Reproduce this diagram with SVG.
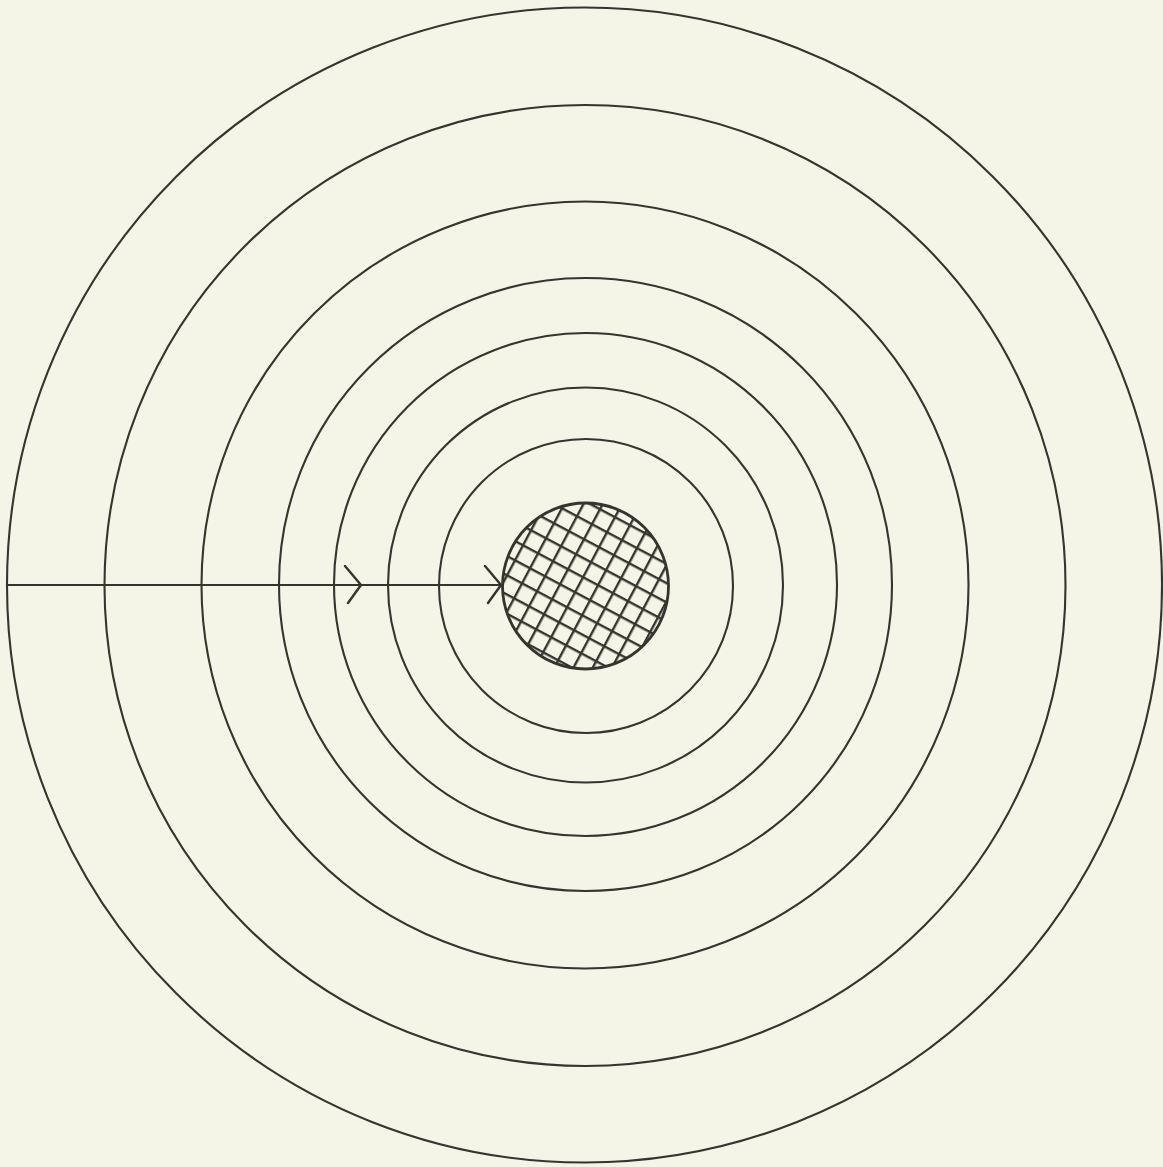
<svg xmlns="http://www.w3.org/2000/svg" width="1163" height="1167" viewBox="0 0 1163 1167">
<style>
.ring{fill:none;stroke:#35352f;stroke-width:2.1}
.conn{fill:none;stroke:#35352f;stroke-width:2.1}
.chev{fill:none;stroke:#35352f;stroke-width:2.4;stroke-linecap:round;stroke-linejoin:round}
.hatch{stroke:#35352f;stroke-width:2.8}
</style>
<defs>
<marker id="chev" markerUnits="userSpaceOnUse" markerWidth="22" markerHeight="42" refX="18" refY="20" orient="auto" viewBox="0 0 22 42">
<path class="chev" d="M2,1 L18,20 L5,38"/>
</marker>
<pattern id="grid" patternUnits="userSpaceOnUse" width="17" height="17" patternTransform="rotate(28 585 586)">
<line class="hatch" x1="0" y1="1" x2="17" y2="1"/>
<line class="hatch" x1="1" y1="0" x2="1" y2="17"/>
</pattern>
</defs>
<rect width="1163" height="1167" fill="#f4f4e7"/>
<g id="rings">
<circle id="ring1" class="ring" cx="584.5" cy="585" r="577.5"/>
<circle id="ring2" class="ring" cx="585" cy="585.5" r="480.5"/>
<circle id="ring3" class="ring" cx="585" cy="585" r="383.5"/>
<circle id="ring4" class="ring" cx="585.5" cy="584.5" r="306.5"/>
<circle id="ring5" class="ring" cx="585.5" cy="584.5" r="251.5"/>
<circle id="ring6" class="ring" cx="585.5" cy="585" r="197.5"/>
<circle id="ring7" class="ring" cx="586" cy="586" r="147"/>
</g>
<g id="core">
<circle cx="585.5" cy="586" r="83" fill="url(#grid)"/>
<circle cx="585.5" cy="586" r="83" fill="none" stroke="#35352f" stroke-width="2.8"/>
</g>
<g id="connectors">
<polyline class="conn" points="7,585 361,585 501,585" marker-mid="url(#chev)" marker-end="url(#chev)"/>
</g>
</svg>
